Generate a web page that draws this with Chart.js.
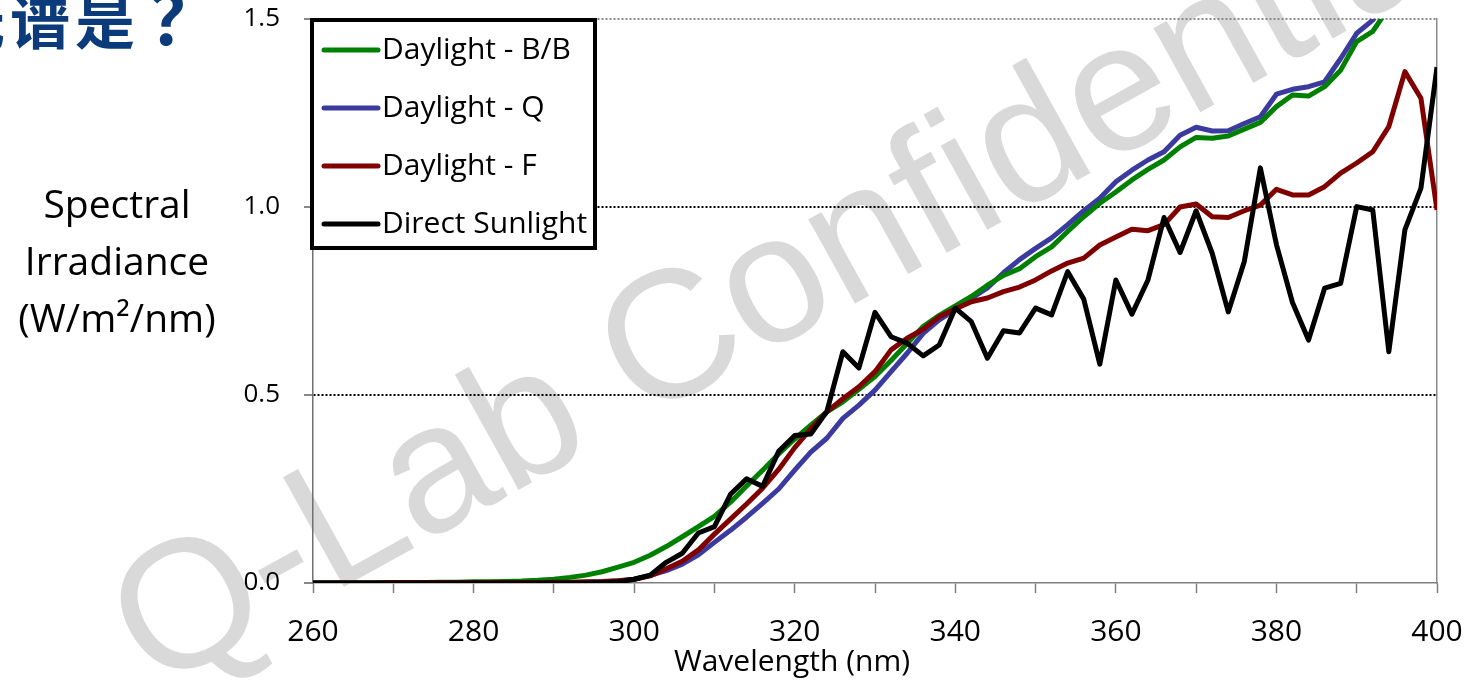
<!DOCTYPE html>
<html><head><meta charset="utf-8">
<script src="https://cdn.jsdelivr.net/npm/chart.js@4.4.1/dist/chart.umd.min.js"></script>
<style>
html,body{margin:0;padding:0;background:#fff;overflow:hidden}
#wrap{position:relative;width:1468px;height:682px}
canvas{position:absolute;left:0;top:0}
#title{position:absolute;left:-55px;top:-17px;font-family:"Noto Sans CJK SC",sans-serif;font-weight:bold;font-size:60px;line-height:60px;color:#0b3b7a;letter-spacing:5px;white-space:nowrap;z-index:2}
#title .q{font-size:72px;letter-spacing:0;position:relative;left:9px;top:1px}
</style></head><body>
<div id="wrap"><canvas id="c" width="1468" height="682"></canvas><div id="title">光谱是<span class="q">？</span></div></div>
<script>
const wavelengths = [
 260,262,264,266,268, 270,272,274,276,278, 280,282,284,286,288, 290,292,294,296,298,
 300,302,304,306,308, 310,312,314,316,318, 320,322,324,326,328, 330,332,334,336,338,
 340,342,344,346,348, 350,352,354,356,358, 360,362,364,366,368, 370,372,374,376,378,
 380,382,384,386,388, 390,392,394,396,398, 400];
const daylightBB = [
 0,0,0,0,0, 0.001,0.001,0.001,0.002,0.002, 0.003,0.003,0.004,0.005,0.007, 0.010,0.015,0.021,0.030,0.042,
 0.055,0.074,0.097,0.123,0.150, 0.177,0.215,0.258,0.300,0.343, 0.383,0.420,0.455,0.482,0.515, 0.549,0.592,0.637,0.682,0.712,
 0.737,0.762,0.792,0.818,0.836, 0.868,0.894,0.935,0.974,1.010, 1.040,1.072,1.100,1.125,1.160, 1.185,1.183,1.189,1.207,1.225,
 1.267,1.298,1.295,1.320,1.364, 1.440,1.467,1.530,1.600,1.660, 1.720];
const daylightQ = [
 0,0,0,0,0, 0,0,0,0,0, 0,0,0,0,0, 0,0.001,0.002,0.003,0.005,
 0.010,0.020,0.033,0.050,0.075, 0.108,0.140,0.175,0.212,0.250, 0.300,0.348,0.385,0.438,0.473, 0.513,0.562,0.611,0.664,0.700,
 0.727,0.757,0.785,0.825,0.860, 0.890,0.918,0.953,0.990,1.023, 1.067,1.098,1.125,1.147,1.191, 1.212,1.202,1.203,1.222,1.240,
 1.300,1.313,1.320,1.333,1.395, 1.462,1.497,1.560,1.620,1.680, 1.740];
const daylightF = [
 0,0,0,0,0, 0.001,0.001,0.001,0.001,0.001, 0.001,0.001,0.001,0.001,0.001, 0.002,0.002,0.003,0.004,0.006,
 0.010,0.019,0.038,0.058,0.088, 0.130,0.170,0.210,0.252,0.302, 0.360,0.410,0.455,0.490,0.522, 0.562,0.620,0.651,0.675,0.708,
 0.729,0.748,0.758,0.775,0.787, 0.806,0.830,0.851,0.864,0.899, 0.920,0.941,0.937,0.953,1.000, 1.008,0.974,0.972,0.990,1.005,
 1.047,1.032,1.032,1.054,1.090, 1.117,1.147,1.214,1.360,1.289, 0.992];
const directSunlight = [
 0,0,0,0,0, 0,0,0,0,0, 0,0,0,0,0, 0,0,0,0.001,0.003,
 0.010,0.021,0.055,0.079,0.133, 0.150,0.236,0.277,0.257,0.350, 0.392,0.396,0.456,0.615,0.572, 0.720,0.655,0.638,0.604,0.633,
 0.731,0.695,0.598,0.671,0.665, 0.731,0.713,0.828,0.755,0.582, 0.806,0.715,0.806,0.972,0.879, 0.990,0.877,0.721,0.855,1.104,
 0.900,0.746,0.646,0.784,0.797, 1.001,0.992,0.615,0.939,1.050, 1.372];
const seriesNames = ['Daylight - B/B','Daylight - Q','Daylight - F','Direct Sunlight'];
const seriesColors = ['#008000','#3b3b9f','#800000','#000000'];
const xTickLabels = ['260','280','300','320','340','360','380','400'];
const yTickLabels = ['0.0','0.5','1.0','1.5'];
const xTitle = 'Wavelength (nm)';
const yTitleLines = ['Spectral','Irradiance','(W/m²/nm)'];
const watermarkText = 'Q-Lab Confidential';

const FONT = '"Open Sans","Noto Sans",sans-serif';
const seriesValues = [daylightBB, daylightQ, daylightF, directSunlight];
const drawOrder = [2,3,1,0];
const datasets = seriesValues.map((vals,i)=>({
  label: seriesNames[i],
  data: wavelengths.map((w,j)=>({x:w,y:vals[j]})),
  borderColor: seriesColors[i],
  backgroundColor: seriesColors[i],
  borderWidth: 5,
  pointRadius: 0,
  tension: 0,
  clip: 0,
  order: drawOrder[i]
}));

const decorPlugin = {
  id:'decor',
  beforeDraw(chart){
    const c = chart.ctx;
    c.save();
    c.fillStyle = '#fff';
    c.fillRect(0,0,chart.width,chart.height);
    c.translate(154,692);
    c.rotate(-29*Math.PI/180);
    c.font = '182px "Liberation Sans", Arial, sans-serif';
    c.fillStyle = '#d9d9d9';
    c.textAlign = 'left';
    c.textBaseline = 'alphabetic';
    c.fillText(watermarkText,0,0);
    c.restore();
  },
  afterDraw(chart){
    const c = chart.ctx;
    const ca = chart.chartArea;
    c.save();
    c.fillStyle = '#000';
    c.font = '39px ' + FONT;
    c.textAlign = 'center';
    c.textBaseline = 'alphabetic';
    const ys = [218, 275, 332];
    yTitleLines.forEach((t,i)=>c.fillText(t,117,ys[i]));
    c.font = '30px ' + FONT;
    c.textBaseline = 'middle';
    c.fillText(xTitle, 792, 662);
    const lx = ca.left - 1, ly = ca.top + 1;
    c.fillStyle = '#fff';
    c.fillRect(lx, ly, 283, 228);
    c.lineWidth = 4;
    c.strokeStyle = '#000';
    c.strokeRect(lx, ly, 283, 228);
    c.font = '30px ' + FONT;
    c.textAlign = 'left';
    c.textBaseline = 'middle';
    chart.data.datasets.forEach((ds,i)=>{
      const y = ly + 30 + i*58;
      c.strokeStyle = ds.borderColor;
      c.lineWidth = 5;
      c.lineCap = 'round';
      c.beginPath(); c.moveTo(lx+12,y); c.lineTo(lx+66,y); c.stroke();
      c.fillStyle = '#000';
      c.fillText(ds.label, lx+70, y);
    });
    c.restore();
  }
};

new Chart(document.getElementById('c'), {
  type:'line',
  data:{datasets},
  plugins:[decorPlugin],
  options:{
    responsive:false,
    animation:false,
    devicePixelRatio:1,
    layout:{padding:{left:0,right:31,top:19,bottom:0}},
    plugins:{legend:{display:false},tooltip:{enabled:false}},
    elements:{line:{borderJoinStyle:'round',borderCapStyle:'butt'}},
    scales:{
      x:{
        type:'linear', min:260, max:400,
        ticks:{stepSize:10, autoSkip:false, maxRotation:0, color:'#000',
          font:{size:30,family:FONT}, padding:21,
          callback:(v)=> (v%20===0 ? xTickLabels[(v-260)/20] : '')},
        grid:{drawOnChartArea:false, drawTicks:true, tickLength:10, tickColor:'#808080', tickWidth:1.5},
        border:{color:'#808080', width:1.5},
        afterFit:(s)=>{s.height=99; s.paddingLeft=0; s.paddingRight=0;}
      },
      y:{
        min:0, max:1.5,
        ticks:{stepSize:0.5, color:'#000', font:{size:26,family:FONT}, padding:24,
          callback:(v,i)=>yTickLabels[i]},
        grid:{
          color:(ctx)=> ctx.tick.value===1.5 ? '#8a8a8a' : (ctx.tick.value===0 ? 'rgba(0,0,0,0)' : '#000'),
          lineWidth:2, tickLength:9, tickColor:'#606060', tickWidth:1.5
        },
        border:{color:'#707070', width:1.5, dash:[2,2]},
        afterFit:(s)=>{s.width=313; s.paddingTop=0; s.paddingBottom=0;}
      },
      y2:{
        position:'right', min:0, max:1.5, display:true,
        ticks:{display:false},
        grid:{display:false, drawTicks:false},
        border:{color:'#8a8a8a', width:1.5},
        afterFit:(s)=>{s.width=0; s.paddingTop=0; s.paddingBottom=0;}
      }
    }
  }
});
</script>
</body></html>
